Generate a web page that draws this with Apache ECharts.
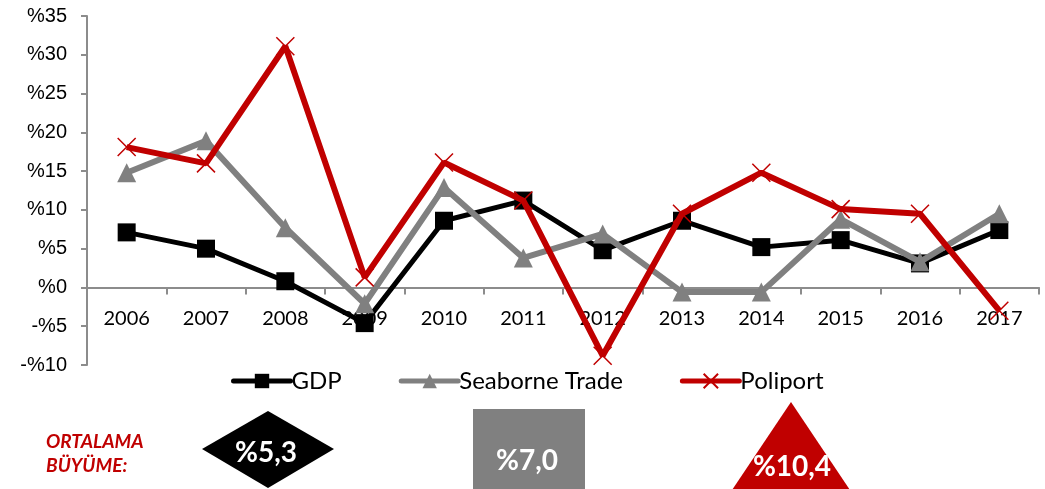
<!DOCTYPE html>
<html>
<head>
<meta charset="utf-8">
<script src="https://cdn.jsdelivr.net/npm/echarts@6/dist/echarts.min.js"></script>
<style>
html,body{margin:0;padding:0;background:#fff;}
#chart{width:1045px;height:489px;}
</style>
</head>
<body>
<div id="chart"></div>
<script>
const years = ['2006','2007','2008','2009','2010','2011','2012','2013','2014','2015','2016','2017'];
const gdp = [7.1, 5.0, 0.8, -4.6, 8.6, 11.2, 4.8, 8.6, 5.2, 6.1, 3.1, 7.4];
const seaborne = [14.8, 18.9, 7.7, -2.1, 12.9, 3.8, 6.9, -0.6, -0.6, 8.8, 3.3, 9.5];
const poliport = [18.1, 16.0, 31.1, 1.3, 16.1, 11.2, -8.8, 9.5, 14.8, 10.1, 9.5, -3.0];
const seriesNames = ['GDP', 'Seaborne Trade', 'Poliport'];
const averageLabel = ['ORTALAMA', 'BÜYÜME:'];
const averages = ['%5,3', '%7,0', '%10,4'];

const gridTop = 16, gridBottom = 124, H = 489;
const yMin = -10, yMax = 35;
const plotH = H - gridTop - gridBottom;
const zeroOffset = -plotH * (0 - yMin) / (yMax - yMin);

const chart = echarts.init(document.getElementById('chart'));
const xPath = 'path://M0,0L10,10M10,0L0,10';
chart.setOption({
  animation: false,
  grid: {left: 87, right: 6, top: gridTop, bottom: gridBottom},
  legend: {
    left: 231, top: 369, padding: 0, itemWidth: 57, itemHeight: 18, itemGap: 57,
    lineStyle: {width: 5, cap: 'round'},
    textStyle: {fontFamily: 'Lato', fontSize: 24, color: '#000', padding: [0,0,0,-4]},
    data: seriesNames
  },
  xAxis: {
    type: 'category', data: years, boundaryGap: true, offset: zeroOffset,
    axisLine: {onZero: false, lineStyle: {color: '#8c8c8c', width: 2}},
    axisTick: {show: true, length: 7, lineStyle: {color: '#8c8c8c', width: 2}},
    axisLabel: {margin: 21, fontFamily: 'Lato', fontSize: 20, color: '#000'}
  },
  yAxis: {
    type: 'value', min: yMin, max: yMax, interval: 5,
    splitLine: {show: false},
    axisLine: {show: true, lineStyle: {color: '#8c8c8c', width: 2}},
    axisTick: {show: true, length: 6, lineStyle: {color: '#8c8c8c', width: 2}},
    axisLabel: {
      margin: 20, fontFamily: 'Liberation Sans', fontSize: 20, color: '#000',
      formatter: v => v < 0 ? '-%' + (-v) : '%' + v
    }
  },
  series: [
    {name: seriesNames[0], type: 'line', data: gdp, symbol: 'rect', symbolSize: 18,
     lineStyle: {color: '#000', width: 5}, itemStyle: {color: '#000'}, z: 2},
    {name: seriesNames[1], type: 'line', data: seaborne, symbol: 'triangle', symbolSize: 19,
     lineStyle: {color: '#808080', width: 6}, itemStyle: {color: '#808080'}, z: 3},
    {name: seriesNames[2], type: 'line', data: poliport, symbol: xPath, symbolSize: 18,
     lineStyle: {color: '#c00000', width: 6},
     itemStyle: {color: 'none', borderColor: '#c00000', borderWidth: 1.5}, z: 4}
  ],
  graphic: [
    {type: 'text', left: 46, top: 430, style: {text: averageLabel[0] + '\n' + averageLabel[1], fill: '#c00000',
      font: 'italic bold 19px Lato', lineHeight: 24}},
    {type: 'polygon', shape: {points: [[268,411],[334,449],[268,488],[202,449]]}, style: {fill: '#000'}},
    {type: 'text', x: 266, y: 453, style: {text: averages[0], fill: '#fff', font: 'bold 28px Lato', align: 'center', verticalAlign: 'middle'}},
    {type: 'rect', shape: {x: 473, y: 409, width: 112, height: 90}, style: {fill: '#808080'}},
    {type: 'text', x: 527, y: 461, style: {text: averages[1], fill: '#fff', font: 'bold 28px Lato', align: 'center', verticalAlign: 'middle'}},
    {type: 'polygon', shape: {points: [[791,402],[860,505],[722,505]]}, style: {fill: '#c00000'}},
    {type: 'text', x: 792, y: 467, style: {text: averages[2], fill: '#fff', font: 'bold 28px Lato', align: 'center', verticalAlign: 'middle'}}
  ]
});
</script>
</body>
</html>
